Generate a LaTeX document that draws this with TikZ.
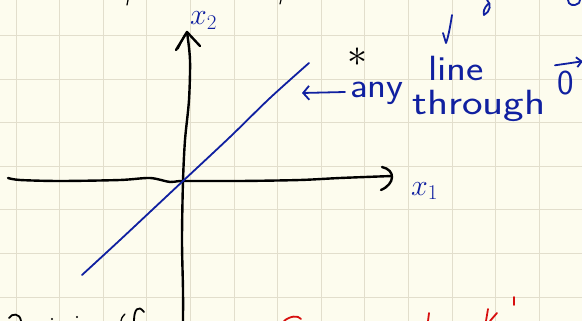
\RequirePackage{fix-cm}
\documentclass[tikz,border=0pt]{standalone}
\usetikzlibrary{arrows.meta}
\definecolor{paper}{RGB}{253,252,238}
\definecolor{gridc}{RGB}{226,222,204}
\definecolor{inkblue}{RGB}{16,32,160}
\definecolor{inkred}{RGB}{215,15,15}
\begin{document}
\begin{tikzpicture}[x=1pt,y=-1pt,
  axis/.style={line width=2.4pt,black,line cap=round,line join=round},
  blueink/.style={line width=1.8pt,inkblue,line cap=round,line join=round},
  redink/.style={line width=1.8pt,inkred,line cap=round},
  blackink/.style={line width=1.8pt,black,line cap=round},
  hand/.style={inkblue,font=\sffamily\fontsize{35}{38}\selectfont,inner sep=0pt},
  lab/.style={inkblue,font=\fontsize{30}{32}\selectfont,inner sep=0pt}]
\fill[paper] (0,0) rectangle (582,321);
\useasboundingbox (0,0) rectangle (582,321);
% grid
\foreach \k in {0,...,12} \draw[gridc,line width=1pt] ({16+43.6*\k},0) -- ({16+43.6*\k},321);
\foreach \k in {0,...,6} \draw[gridc,line width=1pt] (0,{35.5+43.6*\k}) -- (582,{35.5+43.6*\k});
% key points
\coordinate (O) at (183,181);
\coordinate (xs) at (8,178);
\coordinate (xe) at (392,176);
\coordinate (yb) at (183,321);
\coordinate (yt) at (187,32);
\coordinate (L1) at (82,275);
\coordinate (L2) at (309,63);
% axes
\draw[axis] plot[smooth] coordinates {(xs) (20,180) (60,181) (120,180) (150,178) (170,182) (O) (240,181) (300,180) (340,178) (xe)};
\draw[axis] (382,167) .. controls (396,170) and (395,184) .. (381,190);
\draw[axis] plot[smooth] coordinates {(yb) (183,290) (182,240) (O) (185,140) (189,100) (190,60) (yt)};
\draw[axis] (176,50) -- (yt) -- (200,46);
\draw[line width=1.4pt] (178,49) -- (185,34);
% blue line through origin
\draw[blueink] plot[smooth] coordinates {(L1) (120,240) (O) (230,137) (270,98) (L2)};
% labels
\node[lab,anchor=base west] (x2) at (190,25) {$x_2$};
\node[lab,anchor=base west] (x1) at (411,195) {$x_1$};
% text
\node[hand,anchor=base west] (any) at (350,98) {\scalebox{1.12}[1]{any}};
\node[hand,anchor=base west] (line) at (428,81) {\scalebox{1.18}[1]{line}};
\node[hand,anchor=base west] (thr) at (412,114) {\scalebox{1.25}[1]{through}};
\node[hand,anchor=base west] (zero) at (557,95) {0};
\draw[blueink,-{Straight Barb[length=5pt,width=10pt]}] ([shift={(-2,-6)}]zero.north west) -- ([shift={(9,-10)}]zero.north east);
\coordinate (arr) at (302,93);
\draw[blueink,-{Straight Barb[length=6pt,width=14pt]}] (345,92) -- (arr);
% asterisk
\node[font=\fontsize{40}{40}\selectfont,inner sep=0pt] (star) at (357,57) {$*$};
% small down arrow
\draw[blueink] (452,15) .. controls (450,28) and (448,38) .. (446,43) -- (443,33);
% cut-off strokes at the top edge
\draw[blueink] (487,0) .. controls (492,4) and (490,12) .. (484,15) .. controls (483,12) and (484,8) .. (488,4);
\draw[blueink] (568,0) .. controls (568,5) and (574,7) .. (579,3) -- (580,0);
\draw[blackink,line width=1.2pt] (128,0) -- (127,5);
\draw[blackink,line width=1.2pt] (281,0) -- (280,4);
% cut-off strokes at the bottom edge
\draw[blackink] (9,318) .. controls (12,313) and (20,313) .. (21,321);
\fill (52,319) circle (1.2pt);
\fill (77,317) circle (1.2pt);
\draw[blackink,line width=1.3pt] (125,314) .. controls (122,317) and (121,319) .. (121,321);
\draw[blackink] (144,312) .. controls (138,304) and (134,310) .. (134,321);
\draw[redink] (284,321) .. controls (290,316) and (298,315) .. (301,319);
\draw[redink] (429,313) -- (428,321);
\draw[redink] (488,309) -- (486,321);
\draw[redink] (497,313) -- (490,321);
\draw[redink] (514,297) -- (514,305);
\end{tikzpicture}
\end{document}
